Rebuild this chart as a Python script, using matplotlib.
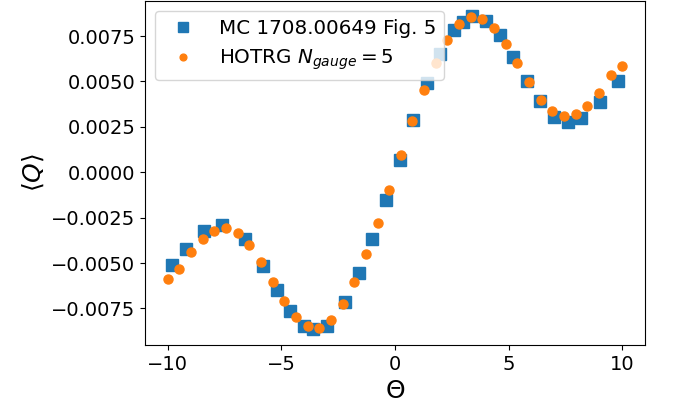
import numpy as np
import matplotlib
matplotlib.use("Agg")
from matplotlib import pyplot as plt

# MC data (1708.00649 Fig. 5)
theta_mc = [-9.8, -9.2, -8.4, -7.6, -6.6, -5.8, -5.2, -4.6, -4.0, -3.6, -3.0,
            -2.2, -1.6, -1.0, -0.4, 0.2, 0.8, 1.4, 2.0, 2.6, 3.0, 3.4, 4.0,
            4.6, 5.2, 5.8, 6.4, 7.0, 7.6, 8.2, 9.0, 9.8]
q_mc = [-0.00513, -0.00425, -0.00326, -0.00293, -0.00365, -0.00514, -0.00650,
        -0.00765, -0.00845, -0.00865, -0.00845, -0.00714, -0.00556, -0.00366,
        -0.00152, 0.00067, 0.00286, 0.00489, 0.00654, 0.00781, 0.00830,
        0.00858, 0.00834, 0.00754, 0.00635, 0.00502, 0.00395, 0.00306,
        0.00279, 0.00301, 0.00388, 0.00502]

# HOTRG, N_gauge = 5
theta_trg = [-10.0, -9.487, -8.974, -8.462, -7.949, -7.436, -6.923, -6.410,
             -5.897, -5.385, -4.872, -4.359, -3.846, -3.333, -2.821, -2.308,
             -1.795, -1.282, -0.769, -0.256, 0.256, 0.769, 1.282, 1.795,
             2.308, 2.821, 3.333, 3.846, 4.359, 4.872, 5.385, 5.897, 6.410,
             6.923, 7.436, 7.949, 8.462, 8.974, 9.487, 10.0]
q_trg = [-0.00585, -0.00534, -0.00440, -0.00366, -0.00321, -0.00308, -0.00335,
         -0.00401, -0.00495, -0.00604, -0.00710, -0.00796, -0.00849, -0.00855,
         -0.00812, -0.00728, -0.00606, -0.00452, -0.00280, -0.00096, 0.00094,
         0.00281, 0.00452, 0.00602, 0.00726, 0.00814, 0.00853, 0.00845,
         0.00794, 0.00708, 0.00602, 0.00495, 0.00398, 0.00336, 0.00308,
         0.00319, 0.00364, 0.00438, 0.00533, 0.00584]

plt.rcParams['font.size'] = 14

fig = plt.figure(figsize=(6.73, 4.09), dpi=100)
ax = fig.add_subplot(111)
fig.subplots_adjust(left=0.2155, right=0.9584, top=0.998, bottom=0.1565)

ax.plot(theta_mc, q_mc, 's', ms=9, color='C0', label='MC 1708.00649 Fig. 5')
ax.plot(theta_trg, q_trg, 'o', ms=6.5, color='C1', label='HOTRG $N_{gauge}=5$')

ax.set_xlabel(r'$\Theta$', fontsize=18)
ax.set_ylabel(r'$\langle Q\rangle$', fontsize=18)
ax.legend(loc='upper left', fontsize=14.3, markerscale=0.75)

plt.savefig("out.png", dpi=100)
